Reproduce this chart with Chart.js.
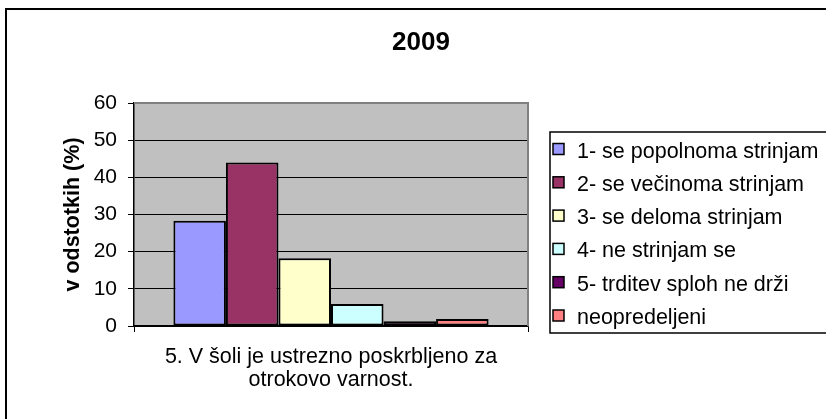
<!DOCTYPE html>
<html>
<head>
<meta charset="utf-8">
<script src="https://cdn.jsdelivr.net/npm/chart.js@4.4.1/dist/chart.umd.min.js"></script>
<style>
  html, body { margin: 0; padding: 0; background: #ffffff; }
  canvas { display: block; }
</style>
</head>
<body>
<canvas id="c" width="826" height="419"></canvas>
<script>
const chartTitle = '2009';
const yAxisTitle = 'v odstotkih (%)';
const categories = [['5. V šoli je ustrezno poskrbljeno za', 'otrokovo varnost.']];
const seriesNames = [
  '1- se popolnoma strinjam',
  '2- se večinoma strinjam',
  '3- se deloma strinjam',
  '4- ne strinjam se',
  '5- trditev sploh ne drži',
  'neopredeljeni'
];
const seriesValues = [28.3, 44.0, 18.2, 5.9, 1.3, 1.9];
const yTicks = [0, 10, 20, 30, 40, 50, 60];

const seriesColors = ['#9999FF', '#993366', '#FFFFCC', '#CCFFFF', '#660066', '#FF8080'];
const FONT = "'Liberation Sans', Arial, sans-serif";

const datasets = seriesNames.map((name, i) => ({
  label: name,
  data: [seriesValues[i]],
  backgroundColor: seriesColors[i],
  borderColor: '#000000',
  borderWidth: 2,
  borderSkipped: false,
  categoryPercentage: 0.8,
  barPercentage: 1.0
}));

const decorPlugin = {
  id: 'decor',
  beforeDraw(chart) {
    const { ctx, chartArea: a } = chart;
    ctx.save();
    ctx.fillStyle = '#C0C0C0';
    ctx.fillRect(a.left, a.top, a.right - a.left, a.bottom - a.top);
    ctx.restore();
  },
  afterDatasetsDraw(chart) {
    const { ctx, chartArea: a } = chart;
    ctx.save();
    ctx.strokeStyle = '#808080';
    ctx.lineWidth = 2;
    ctx.beginPath();
    ctx.moveTo(a.left, a.top);
    ctx.lineTo(a.right, a.top);
    ctx.lineTo(a.right, a.bottom);
    ctx.stroke();
    ctx.restore();
  },
  afterDraw(chart) {
    const { ctx } = chart;
    ctx.save();
    // outer chart border
    ctx.strokeStyle = '#000000';
    ctx.lineWidth = 2;
    ctx.strokeRect(6, 9, 900, 900);
    // title
    ctx.fillStyle = '#000000';
    ctx.font = 'bold 26px ' + FONT;
    ctx.textAlign = 'center';
    ctx.textBaseline = 'alphabetic';
    ctx.fillText(chartTitle, 421, 50);
    // legend box
    ctx.lineWidth = 1.5;
    ctx.strokeStyle = '#000000';
    ctx.strokeRect(550, 132, 400, 201);
    ctx.font = '21.5px ' + FONT;
    ctx.textAlign = 'left';
    chart.data.datasets.forEach((ds, i) => {
      const base = 157.5 + i * 33.3;
      ctx.fillStyle = ds.backgroundColor;
      ctx.fillRect(553, base - 14, 11, 11);
      ctx.lineWidth = 1.5;
      ctx.strokeRect(553, base - 14, 11, 11);
      ctx.fillStyle = '#000000';
      ctx.fillText(ds.label, 577, base);
    });
    ctx.restore();
  }
};

new Chart(document.getElementById('c'), {
  type: 'bar',
  data: { labels: categories, datasets },
  options: {
    responsive: false,
    devicePixelRatio: 1,
    animation: false,
    layout: { padding: { top: 103, right: 298, bottom: 0, left: 0 } },
    plugins: {
      legend: { display: false },
      title: { display: false },
      tooltip: { enabled: false }
    },
    scales: {
      x: {
        offset: true,
        grid: {
          display: true,
          offset: true,
          drawOnChartArea: false,
          color: '#000000',
          tickLength: 6,
          lineWidth: 1
        },
        border: { display: true, color: '#000000', width: 1.5 },
        ticks: {
          color: '#000000',
          font: { family: FONT, size: 21.5, lineHeight: 1.07 },
          padding: 14,
          maxRotation: 0
        },
        afterFit(scale) { scale.height = 93; }
      },
      y: {
        min: 0,
        max: 60,
        afterBuildTicks(scale) { scale.ticks = yTicks.map(v => ({ value: v })); },
        grid: {
          color: ctx => (ctx.tick && ctx.tick.value === 60 ? '#808080' : '#000000'),
          tickColor: '#000000',
          tickLength: 6,
          lineWidth: 1
        },
        border: { display: true, color: '#000000', width: 1.5 },
        ticks: {
          color: '#000000',
          font: { family: FONT, size: 21 },
          padding: 11
        },
        title: {
          display: true,
          text: yAxisTitle,
          color: '#000000',
          font: { family: FONT, size: 21.5, weight: 'bold' },
          padding: { top: 60, bottom: 0 }
        },
        afterFit(scale) { scale.width = 134; }
      }
    }
  },
  plugins: [decorPlugin]
});
</script>
</body>
</html>
